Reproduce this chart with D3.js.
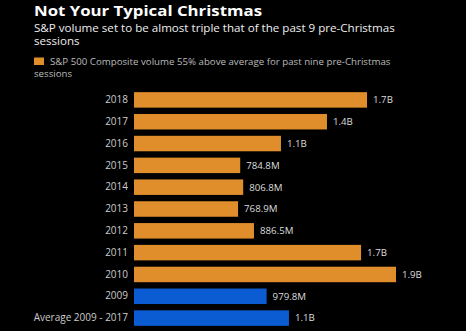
<!DOCTYPE html>
<html>
<head>
<meta charset="utf-8">
<script src="https://cdn.jsdelivr.net/npm/d3@7"></script>
<style>
  html, body { margin: 0; padding: 0; background: #000; }
  svg { display: block; }
  text { font-family: "Open Sans", "DejaVu Sans", sans-serif; }
</style>
</head>
<body>
<div id="chart"></div>
<script>
"use strict";

// pre-Christmas session volume, millions of shares
var categories = ["2018", "2017", "2016", "2015", "2014", "2013", "2012", "2011", "2010", "2009", "Average 2009 - 2017"];
var volumes = [1722, 1426, 1086, 784.8, 806.8, 768.9, 886.5, 1678, 1936, 979.8, 1145];
// the last two rows are the comparison baseline
var baselineRows = ["2009", "Average 2009 - 2017"];

var subtitleLines = ["S&P volume set to be almost triple that of the past 9 pre-Christmas", "sessions"];
var legendLines = ["S&P 500 Composite volume 55% above average for past nine pre-Christmas", "sessions"];

var width = 466, height = 331;

var svg = d3.select("#chart").append("svg")
    .attr("width", width)
    .attr("height", height);

svg.append("rect")
    .attr("width", width)
    .attr("height", height)
    .attr("fill", "#000");

//---------------- headings
svg.append("text")
    .attr("x", 34).attr("y", 15.5)
    .attr("fill", "#fff")
    .attr("font-size", 14.2)
    .attr("font-weight", "bold")
    .attr("font-family", "Verdana, \"DejaVu Sans\", sans-serif")
    .attr("textLength", 228)
    .attr("lengthAdjust", "spacingAndGlyphs")
    .text("Not Your Typical Christmas");

// subtitle wraps onto a second line
svg.append("text")
    .attr("fill", "#eee")
    .attr("font-size", 11.6)
    .selectAll("tspan")
    .data(subtitleLines)
    .enter().append("tspan")
    .attr("x", 34)
    .attr("y", function(d, i) { return 32 + i * 12.5; })
    .text(function(d) { return d; });

// legend: swatch, then text whose second line goes back to the left edge
svg.append("rect")
    .attr("x", 34).attr("y", 57.5)
    .attr("width", 10).attr("height", 7.5)
    .attr("fill", "#e08e2b");
svg.append("text")
    .attr("fill", "#bbb")
    .attr("font-size", 9.7)
    .selectAll("tspan")
    .data(legendLines)
    .enter().append("tspan")
    .attr("x", function(d, i) { return i === 0 ? 50 : 34; })
    .attr("y", function(d, i) { return 65 + i * 11.5; })
    .text(function(d) { return d; });

//---------------- bars
var x = d3.scaleLinear()
    .domain([0, 1936])
    .range([134, 396]);

var y = d3.scaleBand()
    .domain(categories)
    .range([89, 329])
    .paddingInner(0.29)
    .paddingOuter(0.145);

var rows = categories.map(function(c, i) {
    return { name: c, value: volumes[i] };
});

var fmt = function(v) {
    if (v >= 1000) return d3.format(".1f")(v / 1000) + "B";
    return d3.format(".1f")(v) + "M";
};

var bars = svg.append("g").attr("class", "bars")
    .selectAll("g")
    .data(rows)
    .enter().append("g");

bars.append("rect")
    .attr("x", x(0))
    .attr("y", function(d) { return y(d.name); })
    .attr("width", function(d) { return x(d.value) - x(0); })
    .attr("height", y.bandwidth())
    .attr("fill", function(d) {
        return baselineRows.indexOf(d.name) >= 0 ? "#0b5bd3" : "#e08e2b";
    });

bars.append("text")
    .attr("x", function(d) { return x(d.value) + 6; })
    .attr("y", function(d) { return y(d.name) + y.bandwidth() / 2; })
    .attr("dy", "0.35em")
    .attr("fill", "#ddd")
    .attr("font-size", 9.7)
    .text(function(d) { return fmt(d.value); });

// category axis, no line or ticks
var yAxis = svg.append("g")
    .attr("transform", "translate(128,0)")
    .call(d3.axisLeft(y).tickSize(0).tickPadding(0));
yAxis.select(".domain").remove();
yAxis.selectAll("text")
    .attr("fill", "#ccc")
    .attr("font-size", 10)
    .attr("font-family", "\"Open Sans\", \"DejaVu Sans\", sans-serif");
</script>
</body>
</html>
